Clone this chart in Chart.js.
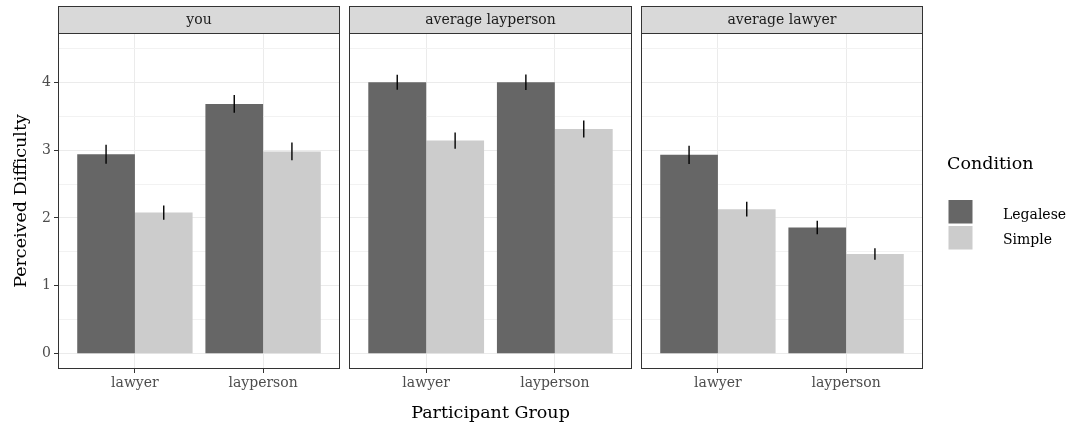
<!DOCTYPE html>
<html>
<head>
<meta charset="utf-8">
<script src="https://cdn.jsdelivr.net/npm/chart.js@4/dist/chart.umd.min.js"></script>
<style>
html, body { margin: 0; padding: 0; background: #fff; }
#wrap { position: relative; width: 1073px; height: 424px; }
#wrap canvas { position: absolute; left: 0; top: 0; }
</style>
</head>
<body>
<div id="wrap">
  <canvas id="panel0" width="1073" height="424"></canvas>
  <canvas id="panel1" width="1073" height="424"></canvas>
  <canvas id="panel2" width="1073" height="424"></canvas>
</div>
<script>
// facets, x categories and the two conditions
var panels = ['you', 'average layperson', 'average lawyer'];
var groups = ['lawyer', 'layperson'];
var conditions = ['Legalese', 'Simple'];

// mean perceived difficulty per panel, [lawyer, layperson]
var legaleseMean = [[2.94, 3.68], [4.00, 4.00], [2.93, 1.86]];
var simpleMean   = [[2.08, 2.98], [3.14, 3.31], [2.13, 1.47]];
// error bar half widths
var legaleseErr  = [[0.14, 0.13], [0.11, 0.115], [0.135, 0.10]];
var simpleErr    = [[0.105, 0.13], [0.12, 0.125], [0.11, 0.085]];

var yTicks = [0, 0.5, 1, 1.5, 2, 2.5, 3, 3.5, 4, 4.5];

var FONT = 'DejaVu Serif';
var colors = ['#666666', '#CCCCCC'];
var panelLeft = [58, 349, 641];
var panelRight = [340, 632, 923];
var plotTop = 33, plotBottom = 369, stripTop = 6;
var YW = 40, XH = 30;

Chart.defaults.font.family = FONT;

function facetPlugin(p) {
  return {
    id: 'facet' + p,
    afterDatasetsDraw: function(chart) {
      var ctx = chart.ctx, area = chart.chartArea, ys = chart.scales.y;
      var errs = [legaleseErr[p], simpleErr[p]];
      ctx.save();
      // error bars
      ctx.strokeStyle = '#000';
      ctx.lineWidth = 1.4;
      chart.data.datasets.forEach(function(ds, d) {
        chart.getDatasetMeta(d).data.forEach(function(bar, i) {
          var v = ds.data[i].y, e = errs[d][i];
          ctx.beginPath();
          ctx.moveTo(bar.x, ys.getPixelForValue(v + e));
          ctx.lineTo(bar.x, ys.getPixelForValue(v - e));
          ctx.stroke();
        });
      });
      // panel border
      ctx.strokeStyle = '#333333';
      ctx.lineWidth = 1;
      ctx.strokeRect(area.left + 0.5, area.top, area.right - area.left - 1, area.bottom - area.top - 0.5);
      // strip
      ctx.fillStyle = '#D9D9D9';
      ctx.fillRect(area.left, stripTop, area.right - area.left, area.top - stripTop);
      ctx.strokeRect(area.left + 0.5, stripTop + 0.5, area.right - area.left - 1, area.top - stripTop);
      ctx.fillStyle = '#1A1A1A';
      ctx.font = '14px "' + FONT + '"';
      ctx.textAlign = 'center';
      ctx.textBaseline = 'middle';
      ctx.fillText(panels[p], (area.left + area.right) / 2, (stripTop + area.top) / 2 + 1);

      if (p === 0) {
        ctx.fillStyle = '#000';
        ctx.font = '17.5px "' + FONT + '"';
        ctx.textBaseline = 'alphabetic';
        ctx.fillText('Participant Group', (panelLeft[0] + panelRight[2]) / 2, 418);
        ctx.save();
        ctx.translate(26, (plotTop + plotBottom) / 2);
        ctx.rotate(-Math.PI / 2);
        ctx.fillText('Perceived Difficulty', 0, 0);
        ctx.restore();
      }
      if (p === 2) {
        ctx.fillStyle = '#000';
        ctx.textAlign = 'left';
        ctx.textBaseline = 'alphabetic';
        ctx.font = '17.5px "' + FONT + '"';
        ctx.fillText('Condition', 947, 169);
        ctx.font = '14px "' + FONT + '"';
        var keyTop = [200, 226], base = [218.5, 244];
        conditions.forEach(function(c, k) {
          ctx.fillStyle = colors[k];
          ctx.fillRect(948.5, keyTop[k], 24, 23.5);
          ctx.fillStyle = '#000';
          ctx.fillText(c, 1003, base[k]);
        });
      }
      ctx.restore();
    }
  };
}

panels.forEach(function(name, p) {
  var means = [legaleseMean[p], simpleMean[p]];
  new Chart(document.getElementById('panel' + p), {
    type: 'bar',
    data: {
      datasets: conditions.map(function(c, d) {
        return {
          label: c,
          data: groups.map(function(g, i) { return { x: i + 1, y: means[d][i] }; }),
          backgroundColor: colors[d],
          borderWidth: 0,
          barPercentage: 1,
          categoryPercentage: 0.9
        };
      })
    },
    options: {
      responsive: false,
      animation: false,
      layout: { padding: { left: panelLeft[p] - YW, right: 1073 - panelRight[p], top: plotTop, bottom: 424 - plotBottom - XH } },
      plugins: { legend: { display: false }, tooltip: { enabled: false } },
      scales: {
        x: {
          type: 'linear', min: 0.4, max: 2.6, offset: false,
          afterBuildTicks: function(s) { s.ticks = [{ value: 1 }, { value: 2 }]; },
          afterFit: function(s) { s.height = XH; },
          ticks: { callback: function(v) { return groups[v - 1]; }, color: '#4D4D4D', font: { size: 14 }, padding: 2, maxRotation: 0, autoSkip: false },
          grid: { color: '#EBEBEB', lineWidth: 1, offset: false, tickLength: 4, tickColor: '#333333', tickWidth: 1 },
          border: { display: false }
        },
        y: {
          min: -0.225, max: 4.725,
          afterBuildTicks: function(s) { s.ticks = yTicks.map(function(v) { return { value: v }; }); },
          afterFit: function(s) { s.width = YW; },
          ticks: { display: p === 0, callback: function(v) { return Number.isInteger(v) ? String(v) : ''; }, color: '#4D4D4D', font: { size: 14 }, padding: 3 },
          grid: {
            color: function(c) { return Number.isInteger(c.tick.value) ? '#EBEBEB' : '#F2F2F2'; },
            lineWidth: 1,
            drawTicks: p === 0, tickLength: 4,
            tickColor: function(c) { return Number.isInteger(c.tick.value) ? '#333333' : 'rgba(0,0,0,0)'; }
          },
          border: { display: false }
        }
      }
    },
    plugins: [facetPlugin(p)]
  });
});
</script>
</body>
</html>
